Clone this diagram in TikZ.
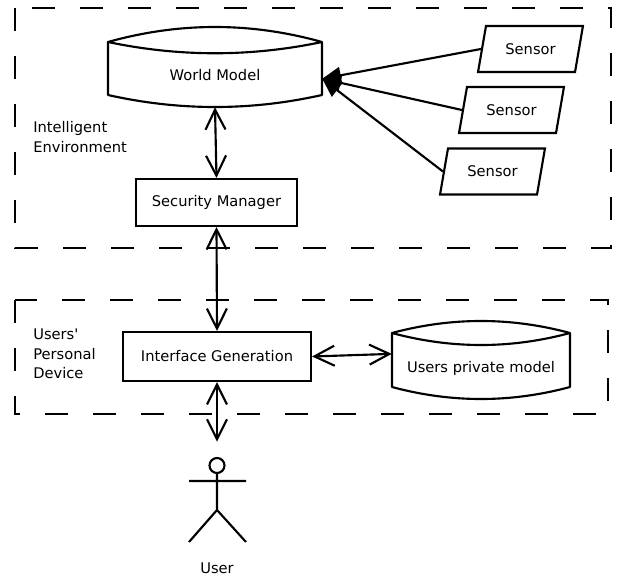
\documentclass[tikz,border=0pt]{standalone}
\usepackage{fontspec}
\setmainfont{DejaVu Sans}
\usetikzlibrary{arrows.meta, shapes.geometric}

% node, half width, corner, top ctrl, inner ctrl, bottom corner, bottom ctrl
\newcommand{\drum}[7]{%
\draw[line width=1.6pt, line join=round, shift={(#1.center)}]
 (-#2,#3) .. controls (-#2/3,#4) and (#2/3,#4) .. (#2,#3)
 .. controls (#2/3,#5) and (-#2/3,#5) .. (-#2,#3)
 -- (-#2,#6) .. controls (-#2/3,#7) and (#2/3,#7) .. (#2,#6) -- (#2,#3);}

\begin{document}
\begin{tikzpicture}[x=0.75pt,y=-0.75pt,every node/.style={font=\fontsize{11}{14.6}\selectfont}]

\tikzset{block/.style = {shape=rectangle,draw,line width=1.6pt,inner sep=0pt}}
\tikzset{store/.style = {shape=rectangle,inner sep=0pt}}
\tikzset{sensor/.style = {trapezium,trapezium left angle=68,trapezium right angle=112,trapezium stretches=true,draw,line width=1.6pt,minimum width=78.75pt,minimum height=34.5pt,inner sep=0pt}}
\tikzset{area/.style = {draw,line width=1.6pt,dash pattern=on 17pt off 19pt}}
\tikzset{link/.style = {line width=1.6pt,{Straight Barb[length=15pt,width=15pt]}-{Straight Barb[length=15pt,width=15pt]}}}
\tikzset{feed/.style = {line width=1.6pt,-{Triangle[length=14pt,width=12.5pt]}}}
\tikzset{txt/.style = {align=left,anchor=west,inner sep=0pt}}

\useasboundingbox (0,0) rectangle (617,577);

%areas
\draw[area] (15,8) rectangle (611,248);
\draw[area] (15,300) rectangle (608,414);
\node[txt] (ienv) at (33,137) {Intelligent\\Environment};
\node[txt] (upd) at (33,354) {Users\textquotesingle\\Personal\\Device};

%nodes
\node[store, minimum width=160.5pt, minimum height=48pt] (wm) at (215,75) {World Model};
\drum{wm}{107}{-33}{-53}{-18}{20}{36}
\node[sensor] (s1) at (530.5,49) {Sensor};
\node[sensor] (s2) at (511.5,110) {Sensor};
\node[sensor] (s3) at (492.5,171.5) {Sensor};
\node[block, minimum width=120.75pt, minimum height=35.25pt] (sm) at (216.5,202.5) {Security Manager};
\node[block, minimum width=141pt, minimum height=36.75pt] (ig) at (217,356.5) {Interface Generation};
\node[store, minimum width=133.5pt, minimum height=46.5pt] (upm) at (481,368) {Users private model};
\drum{upm}{89}{-35}{-51}{-19}{19}{35}
\node[store, minimum width=43.5pt, minimum height=75pt] (user) at (217,492) {};
\draw[line width=1.6pt, shift={(user.center)}] (0,-26.5) circle (7.5) (0,-19) -- (0,18)
 (-28,-11) -- (29,-11) (-28,50) -- (0,18) -- (29,50);
\node (userlbl) at (217,568) {User};

%edges
\draw[feed] (s1.west) -- (wm.-2);
\draw[feed] (s2.west) -- (wm.-2);
\draw[feed] (s3.west) -- (wm.-2);
\draw[link] (wm.south) -- (sm.north);
\draw[link] (sm.south) -- (ig.north);
\draw[link] (ig.east) -- (upm.171);
\draw[link] (ig.south) -- (user.north);

\end{tikzpicture}
\end{document}
